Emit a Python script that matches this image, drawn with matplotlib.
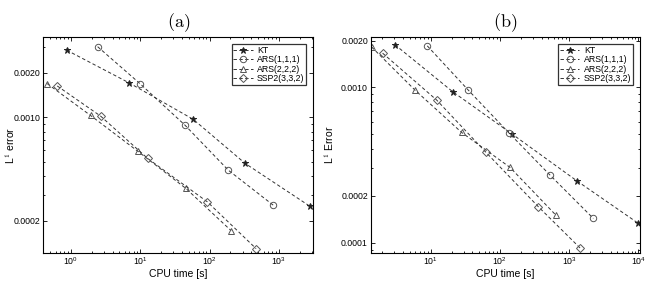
import matplotlib
matplotlib.use("Agg")
import matplotlib.pyplot as plt
from matplotlib.ticker import FixedLocator, FormatStrFormatter, LogLocator, NullFormatter

plt.rcParams['font.family'] = ['Liberation Sans', 'DejaVu Sans']
plt.rcParams['mathtext.fontset'] = 'cm'

labels = ["KT", "ARS(1,1,1)", "ARS(2,2,2)", "SSP2(3,3,2)"]
markers = ["*", "o", "^", "D"]

# Panel (a)
a_kt_t = [0.87, 6.9, 58, 325, 2800]
a_kt_e = [0.00284, 0.00171, 0.00097, 0.000489, 0.000251]
a_ars1_t = [2.43, 9.9, 44, 186, 830]
a_ars1_e = [0.0030, 0.00169, 0.000887, 0.00044, 0.000255]
a_ars2_t = [0.455, 1.92, 9.2, 45.6, 204]
a_ars2_e = [0.00169, 0.00103, 0.000591, 0.000331, 0.000172]
a_ssp_t = [0.635, 2.68, 12.8, 92.7, 468]
a_ssp_e = [0.00163, 0.00102, 0.000528, 0.000269, 0.00013]

# Panel (b)
b_kt_t = [3.05, 20.8, 152, 1306, 10000]
b_kt_e = [0.00188, 0.000937, 0.000498, 0.000249, 0.000133]
b_ars1_t = [8.93, 34.9, 137, 530, 2240]
b_ars1_e = [0.00185, 0.00096, 0.000505, 0.000272, 0.000143]
b_ars2_t = [1.40, 5.93, 28, 140, 646]
b_ars2_e = [0.00182, 0.00096, 0.000512, 0.000305, 0.00015]
b_ssp_t = [2.02, 12.2, 63, 360, 1450]
b_ssp_e = [0.00166, 0.000828, 0.000381, 0.00017, 0.000092]

a_yticks = [0.0002, 0.0010, 0.0020]
b_yticks = [0.0001, 0.0002, 0.0010, 0.0020]

fig = plt.figure(figsize=(6.49, 2.82), dpi=100)
axa = fig.add_axes([0.0667, 0.1039, 0.416, 0.7638])
axb = fig.add_axes([0.5712, 0.1039, 0.415, 0.7638])

def draw(ax, series, xlim, ylim, yticks, ylabel, ylabel_x, title):
    for (t, e), lab, m in zip(series, labels, markers):
        if m == "*":
            kw = dict(markersize=4.5, markerfacecolor="#222222", markeredgecolor="#222222")
        elif m == "D":
            kw = dict(markersize=3.6, markerfacecolor="none", markeredgecolor="#555555")
        else:
            kw = dict(markersize=4.6, markerfacecolor="none", markeredgecolor="#555555")
        ax.plot(t, e, linestyle=(0, (3.5, 2.5)), color="#333333", lw=0.7,
                marker=m, markeredgewidth=0.7, label=lab, **kw)
    ax.set_xscale("log")
    ax.set_yscale("log")
    ax.set_xlim(*xlim)
    ax.set_ylim(*ylim)
    ax.yaxis.set_major_locator(FixedLocator(yticks))
    ax.yaxis.set_major_formatter(FormatStrFormatter("%.4f"))
    ax.yaxis.set_minor_locator(LogLocator(base=10, subs=range(2, 10)))
    ax.yaxis.set_minor_formatter(NullFormatter())
    ax.xaxis.set_major_locator(LogLocator(base=10))
    ax.xaxis.set_minor_locator(LogLocator(base=10, subs=range(2, 10)))
    ax.xaxis.set_minor_formatter(NullFormatter())
    ax.tick_params(which="both", direction="in", top=True, right=True, labelsize=6.3, width=0.6, pad=2)
    ax.tick_params(which="major", length=3)
    ax.tick_params(which="minor", length=1.6)
    for s in ax.spines.values():
        s.set_linewidth(0.8)
    ax.set_xlabel("CPU time [s]", fontsize=7.5, labelpad=1)
    ax.set_ylabel(ylabel, fontsize=7.5)
    ax.yaxis.set_label_coords(ylabel_x, 0.5)
    ax.set_title(title, fontsize=13, pad=7)
    leg = ax.legend(loc="upper right", fontsize=6.3, frameon=True, fancybox=False,
                    edgecolor="black", borderpad=0.2, labelspacing=0.05,
                    handlelength=2.2, handletextpad=0.5, borderaxespad=0.8)
    leg.get_frame().set_linewidth(0.9)

draw(axa, [(a_kt_t, a_kt_e), (a_ars1_t, a_ars1_e), (a_ars2_t, a_ars2_e), (a_ssp_t, a_ssp_e)],
     (0.40, 3125), (0.000122, 0.00347), a_yticks, r"L$^1$ error", -0.097, r"$\mathrm{(a)}$")
draw(axb, [(b_kt_t, b_kt_e), (b_ars1_t, b_ars1_e), (b_ars2_t, b_ars2_e), (b_ssp_t, b_ssp_e)],
     (1.36, 10600), (0.000086, 0.0021), b_yticks, r"L$^1$ Error", -0.128, r"$\mathrm{(b)}$")

fig.savefig("out.png", dpi=100)
